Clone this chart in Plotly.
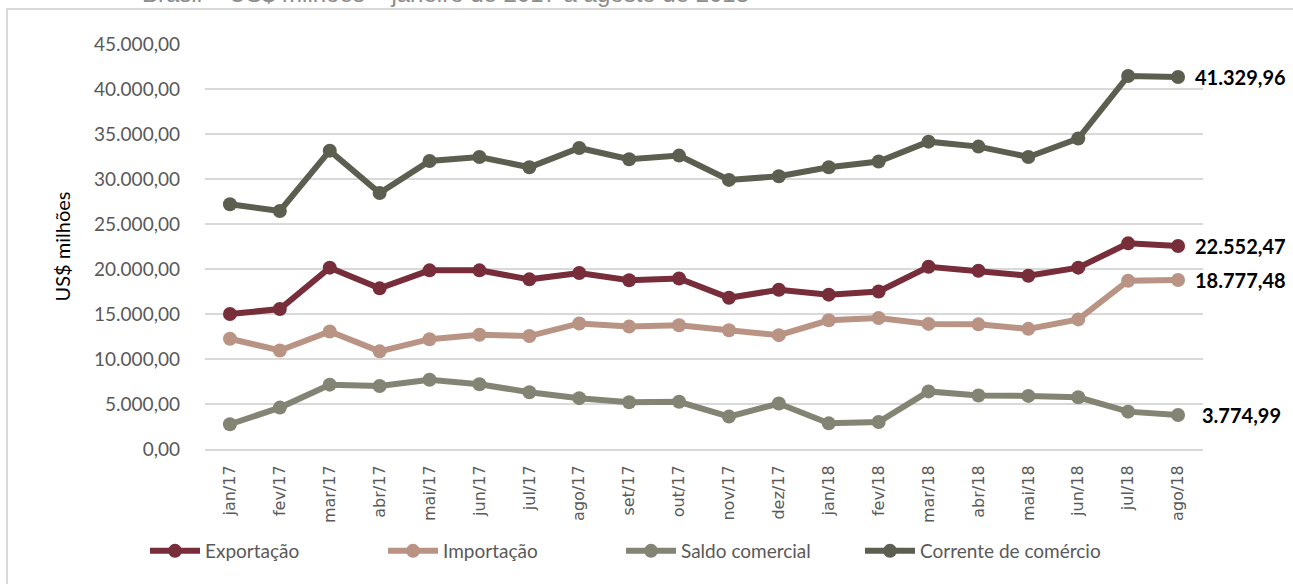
import plotly.graph_objects as go

meses = ["jan/17", "fev/17", "mar/17", "abr/17", "mai/17", "jun/17", "jul/17", "ago/17",
         "set/17", "out/17", "nov/17", "dez/17", "jan/18", "fev/18", "mar/18", "abr/18",
         "mai/18", "jun/18", "jul/18", "ago/18"]

exportacao = [15000, 15550, 20150, 17850, 19850, 19850, 18850, 19550, 18750, 18950,
              16800, 17700, 17150, 17500, 20250, 19800, 19250, 20150, 22850, 22552.47]
importacao = [12250, 10950, 13050, 10850, 12200, 12700, 12550, 13950, 13600, 13750,
              13200, 12650, 14300, 14550, 13900, 13850, 13350, 14400, 18700, 18777.48]
saldo = [2750, 4600, 7150, 7000, 7700, 7200, 6300, 5650, 5200, 5250,
         3600, 5050, 2850, 3000, 6400, 5950, 5900, 5750, 4150, 3774.99]
corrente = [27200, 26450, 33150, 28450, 32000, 32450, 31300, 33450, 32200, 32600,
            29900, 30300, 31300, 31950, 34150, 33600, 32450, 34500, 41450, 41329.96]

series = [
    ("Exportação", exportacao, "#772e3a", "legend"),
    ("Importação", importacao, "#b99484", "legend"),
    ("Saldo comercial", saldo, "#838474", "legend"),
    ("Corrente de comércio", corrente, "#5c5f50", "legend2"),
]

W, H = 1293, 584
ML, MR, MT, MB = 205, 90, 44, 135
PW = W - ML - MR
PH = H - MT - MB


def px_to_paper_x(px):
    return (px - ML) / PW


def px_to_paper_y(py):
    return (H - MB - py) / PH


def br(v):
    s = f"{v:,.2f}"
    return s.replace(",", "X").replace(".", ",").replace("X", ".")


fig = go.Figure()
for name, vals, color, leg in series:
    fig.add_trace(go.Scatter(
        x=meses, y=vals, name=name, mode="lines+markers",
        line=dict(color=color, width=6),
        marker=dict(color=color, size=14),
        legend=leg,
    ))

end_labels = []
for name, vals, color, leg in series:
    end_labels.append(dict(
        x=meses[-1], y=vals[-1], xref="x", yref="y",
        text="<b>" + br(vals[-1]) + "</b>", showarrow=False,
        xanchor="left", xshift=15 if vals[-1] > 10000 else 22, yshift=0,
        font=dict(family="Lato, Liberation Sans, sans-serif", size=20, color="#000000"),
    ))

title_ann = dict(
    x=px_to_paper_x(445), y=px_to_paper_y(-6), xref="paper", yref="paper",
    text="Brasil – US$ milhões – janeiro de 2017 a agosto de 2018",
    showarrow=False, xanchor="center", yanchor="middle",
    font=dict(family="Liberation Sans, Arial, sans-serif", size=24, color="#8c8c8c"),
)

legend_font = dict(family="Lato, Liberation Sans, sans-serif", size=19, color="#595959")

fig.update_layout(
    width=W, height=H,
    margin=dict(l=ML, r=MR, t=MT, b=MB, autoexpand=False),
    paper_bgcolor="white", plot_bgcolor="white",
    showlegend=True,
    legend=dict(
        orientation="h", x=px_to_paper_x(145), xanchor="left",
        y=px_to_paper_y(551), yanchor="middle",
        font=legend_font, itemwidth=50, entrywidth=173, tracegroupgap=0,
        bgcolor="rgba(0,0,0,0)",
    ),
    legend2=dict(
        orientation="h", x=px_to_paper_x(860), xanchor="left",
        y=px_to_paper_y(551), yanchor="middle",
        font=legend_font, itemwidth=50, tracegroupgap=0,
        bgcolor="rgba(0,0,0,0)",
    ),
    xaxis=dict(
        type="category", range=[-0.5, len(meses) - 0.5],
        tickangle=-90, showgrid=False, showline=True, linecolor="#d9d9d9", linewidth=2,
        ticks="", tickfont=dict(family="DejaVu Sans, Verdana, sans-serif", size=16, color="#595959"),
        ticklabelstandoff=8,
    ),
    yaxis=dict(
        range=[0, 45000], tickvals=[i * 5000 for i in range(10)],
        ticktext=[br(i * 5000) for i in range(10)],
        showgrid=True, gridcolor="#d9d9d9", gridwidth=1.5, zeroline=False,
        showline=False, ticks="",
        tickfont=dict(family="Lato, Liberation Sans, sans-serif", size=19, color="#595959"),
        ticklabelstandoff=24,
        title=dict(text="US$ milhões", font=dict(family="Lato, Liberation Sans, sans-serif", size=20, color="#000000"), standoff=18),
    ),
    annotations=end_labels + [title_ann],
    shapes=[dict(
        type="rect", xref="paper", yref="paper",
        x0=px_to_paper_x(7), x1=px_to_paper_x(1320),
        y0=px_to_paper_y(9), y1=px_to_paper_y(620),
        line=dict(color="#d9d9d9", width=2), fillcolor="rgba(0,0,0,0)", layer="below",
    )],
)

fig.write_html("out.html", config={"displayModeBar": False},
               post_script="document.body.style.margin='0';document.body.style.overflow='hidden';")
